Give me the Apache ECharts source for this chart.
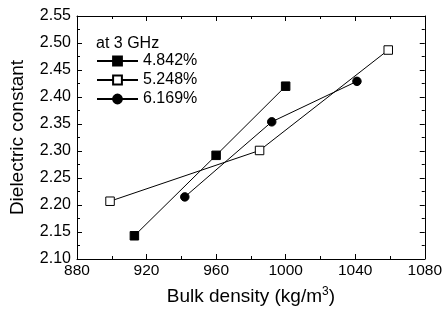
<!DOCTYPE html>
<html><head><meta charset="utf-8">
<script src="https://cdn.jsdelivr.net/npm/echarts@6/dist/echarts.min.js"></script>
<style>html,body{margin:0;padding:0;background:#fff}#c{width:445px;height:323px}</style>
</head><body><div id="c"></div>
<script>
const seriesNames = ['4.842%', '5.248%', '6.169%'];
const s1X = [913, 960, 1000];
const s1Y = [2.143, 2.292, 2.420];
const s2X = [899, 985, 1059];
const s2Y = [2.207, 2.301, 2.487];
const s3X = [942, 992, 1041];
const s3Y = [2.215, 2.354, 2.429];
const legendTitle = 'at 3 GHz';
const xName = 'Bulk density (kg/m{sup|3})';
const yName = 'Dielectric constant';

const FONT = '"Liberation Sans", Arial, sans-serif';
const pair = (xs, ys) => xs.map((x, i) => [x, ys[i]]);
const chart = echarts.init(document.getElementById('c'), null, {renderer: 'canvas'});
const axisCommon = {
  axisLine: {show: true, onZero: false, lineStyle: {color: '#000', width: 1}},
  axisTick: {show: true, inside: true, length: 5, lineStyle: {color: '#000'}},
  minorTick: {show: true, splitNumber: 2, length: 3, lineStyle: {color: '#000'}},
  splitLine: {show: false},
};
const lineSeries = (name, data, symbol, filled) => ({
  name, type: 'line', data, symbol, symbolSize: 8.5,
  xAxisIndex: 0, yAxisIndex: 0,
  lineStyle: {color: '#000', width: 1},
  itemStyle: {color: filled ? '#000' : '#fff', borderColor: '#000', borderWidth: 1},
  emphasis: {disabled: true}, animation: false
});
chart.setOption({
  animation: false,
  textStyle: {fontFamily: FONT},
  grid: {left: 74, right: 19, top: 16, bottom: 64},
  title: {text: legendTitle, left: 96, top: 36, padding: 0,
    textStyle: {fontSize: 16, fontWeight: 'normal', color: '#000', fontFamily: FONT}},
  legend: {
    orient: 'vertical', left: 96, top: 53, padding: 0,
    itemWidth: 41, itemHeight: 11, itemGap: 3,
    textStyle: {fontSize: 16, color: '#000', fontFamily: FONT},
    data: seriesNames
  },
  xAxis: [
    Object.assign({type: 'value', min: 880, max: 1080, interval: 40, position: 'bottom',
      name: xName, nameLocation: 'middle', nameGap: 27,
      nameTextStyle: {fontSize: 19, color: '#000', fontFamily: FONT,
        rich: {sup: {fontSize: 12, verticalAlign: 'top', padding: [0, 0, 9, 0], color: '#000', fontFamily: FONT}}},
      axisLabel: {fontSize: 15.5, color: '#000', margin: 4, fontFamily: FONT,
        formatter: v => String(v)}}, axisCommon),
    Object.assign({type: 'value', min: 880, max: 1080, interval: 40, position: 'top',
      axisLabel: {show: false}}, axisCommon)
  ],
  yAxis: [
    Object.assign({type: 'value', min: 2.10, max: 2.55, interval: 0.05, position: 'left',
      name: yName, nameLocation: 'middle', nameGap: 50,
      nameTextStyle: {fontSize: 19, color: '#000', fontFamily: FONT},
      axisLabel: {fontSize: 16, color: '#000', margin: 6, fontFamily: FONT,
        formatter: v => v.toFixed(2)}}, axisCommon),
    Object.assign({type: 'value', min: 2.10, max: 2.55, interval: 0.05, position: 'right',
      axisLabel: {show: false}}, axisCommon)
  ],
  series: [
    lineSeries(seriesNames[0], pair(s1X, s1Y), 'rect', true),
    lineSeries(seriesNames[1], pair(s2X, s2Y), 'rect', false),
    lineSeries(seriesNames[2], pair(s3X, s3Y), 'circle', true)
  ]
});
</script></body></html>
